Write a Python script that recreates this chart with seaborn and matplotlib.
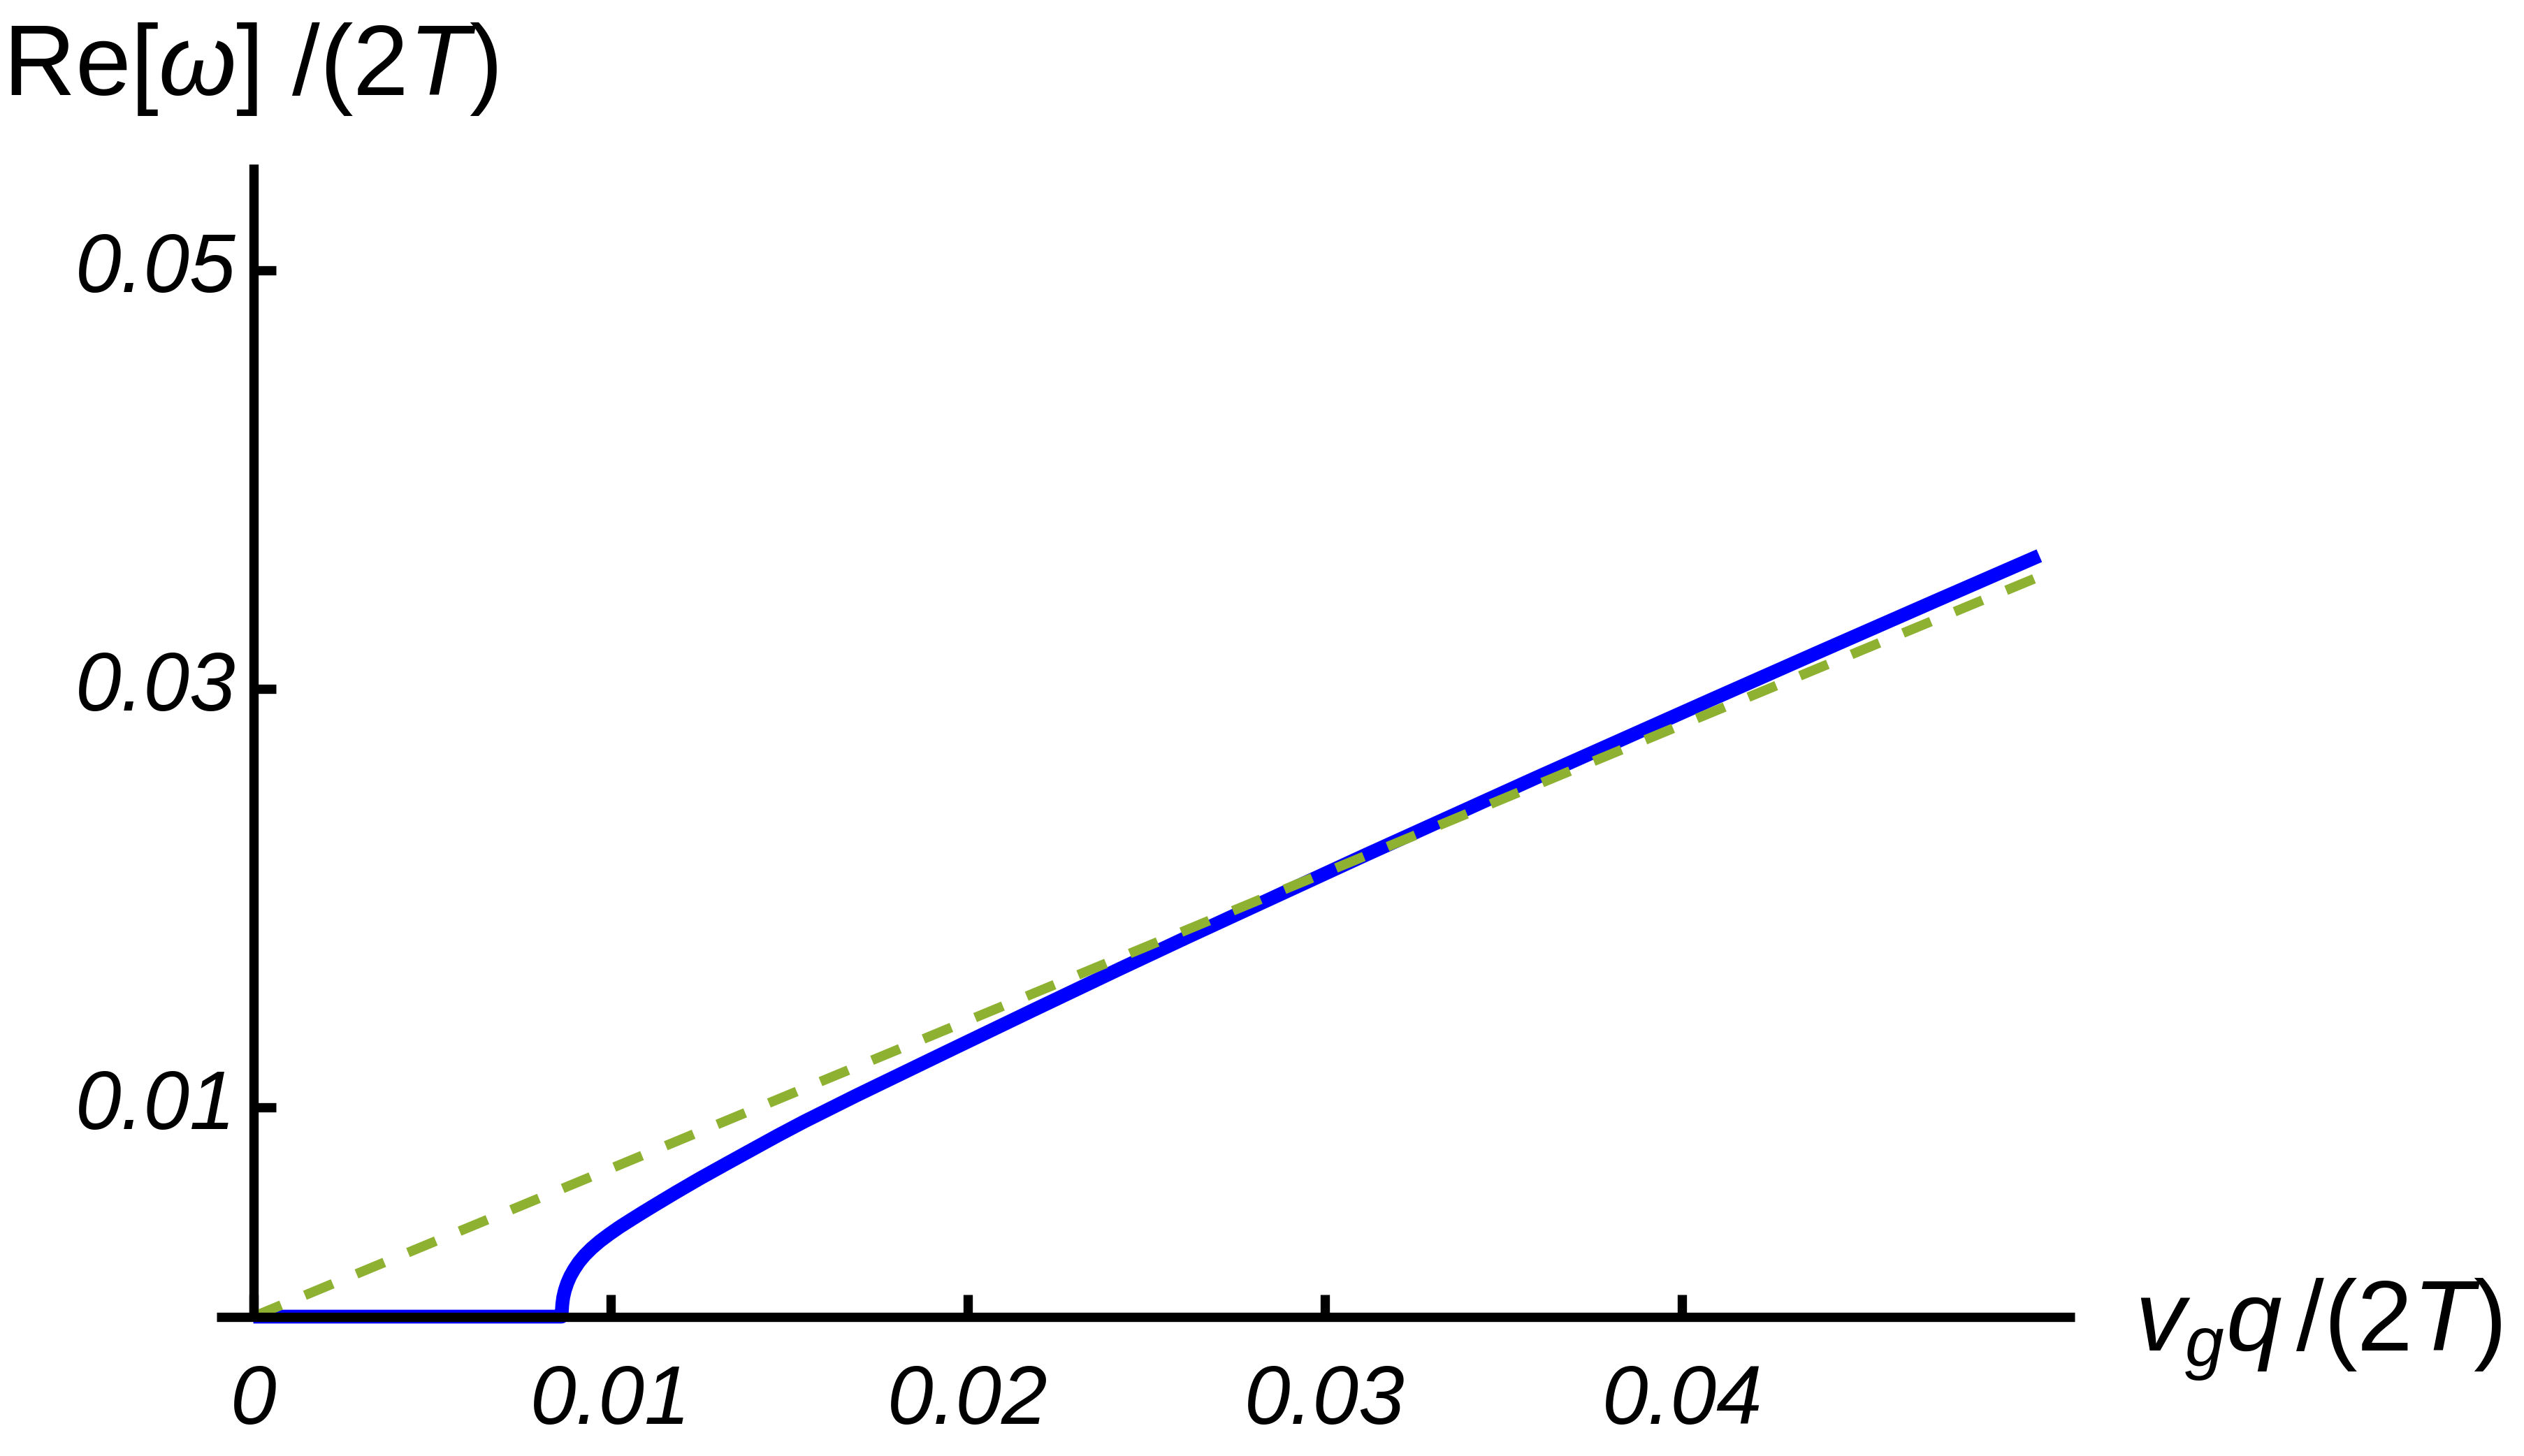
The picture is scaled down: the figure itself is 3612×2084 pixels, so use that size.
import matplotlib
matplotlib.use("Agg")
import matplotlib.pyplot as plt
import seaborn as sns

# Re[omega]/(2T) against v_g q/(2T)
q_blue = [0.0, 0.008630, 0.008636, 0.008649, 0.008675, 0.008721, 0.008786,
          0.008871, 0.008982, 0.009112, 0.009275, 0.009471, 0.009699,
          0.009960, 0.010241, 0.010547, 0.010860, 0.011180, 0.011832,
          0.012504, 0.013208, 0.013939, 0.014676, 0.015419, 0.016873,
          0.019319, 0.021765, 0.024211, 0.02617, 0.03106, 0.03595,
          0.04084, 0.04378, 0.04704, 0.05000]
w_blue = [0.0, 0.0, 0.000261, 0.000595, 0.000929, 0.001263, 0.001597,
          0.001931, 0.002265, 0.002599, 0.002933, 0.003266, 0.003600,
          0.003934, 0.004268, 0.004602, 0.004936, 0.005270, 0.005938,
          0.006605, 0.007273, 0.007960, 0.008650, 0.009320, 0.010560,
          0.012580, 0.014590, 0.016580, 0.01815, 0.02200, 0.02578,
          0.02950, 0.03172, 0.03416, 0.03636]

# dashed reference line through the origin
q_green = [0.0, 0.05]
w_green = [0.0, 0.03536]

x_ticks = [0, 0.01, 0.02, 0.03, 0.04]
x_ticklabels = ["0", "0.01", "0.02", "0.03", "0.04"]
y_ticks = [0.01, 0.03, 0.05]
y_ticklabels = ["0.01", "0.03", "0.05"]

sns.set_theme(style="white")
plt.rcParams.update({
    "font.family": ["Liberation Sans", "DejaVu Sans"],
    "mathtext.fontset": "custom",
    "mathtext.rm": "Liberation Sans",
    "mathtext.it": "Liberation Sans:italic",
    "mathtext.bf": "Liberation Sans:bold",
})

fig = plt.figure(figsize=(36.125, 20.845), dpi=100)
fig.patch.set_facecolor("white")
ax = fig.add_axes([0.0858, 0.0957, 0.7362, 0.7915])

sns.lineplot(x=q_blue, y=w_blue, ax=ax, color="#0000ff", linewidth=14.2,
             estimator=None, sort=False, clip_on=False, zorder=2.2,
             solid_capstyle="butt", solid_joinstyle="round")
sns.lineplot(x=q_green, y=w_green, ax=ax, color="#8fb131", linewidth=10,
             linestyle=(0, (3.1, 2.65)), estimator=None, sort=False,
             clip_on=False, zorder=2.3)

ax.set_xlim(-0.00103, 0.0510)
ax.set_ylim(0, 0.05508)
ax.grid(False)
ax.set_facecolor("white")

# Mathematica-style axes crossing at the origin
ax.spines["left"].set_position(("data", 0))
for side in ["top", "right"]:
    ax.spines[side].set_visible(False)
for side in ["left", "bottom"]:
    ax.spines[side].set_linewidth(9.6)
    ax.spines[side].set_color("black")
    ax.spines[side].set_capstyle("butt")

ax.set_xticks(x_ticks, x_ticklabels)
ax.set_yticks(y_ticks, y_ticklabels)
ax.tick_params(bottom=True, left=True, top=False, right=False,
               direction="in", length=23, width=9.6, color="black",
               labelsize=85, labelcolor="black")
ax.tick_params(axis="x", pad=48)
ax.tick_params(axis="y", pad=18)
for lab in ax.get_xticklabels() + ax.get_yticklabels():
    lab.set_fontstyle("italic")
for lab in ax.get_yticklabels():
    lab.set_verticalalignment("center")

fig.text(0.001, 1 - 136 / 2084, r"$\mathrm{Re}[\omega]\ /(2T)$",
         fontsize=103, ha="left", va="baseline", color="black")
fig.text(3055 / 3612, 1 - 1933 / 2084, r"$v_g q\,/(2T)$",
         fontsize=103, ha="left", va="baseline", color="black")

fig.savefig("out.png", dpi=100, facecolor="white")
plt.close(fig)
